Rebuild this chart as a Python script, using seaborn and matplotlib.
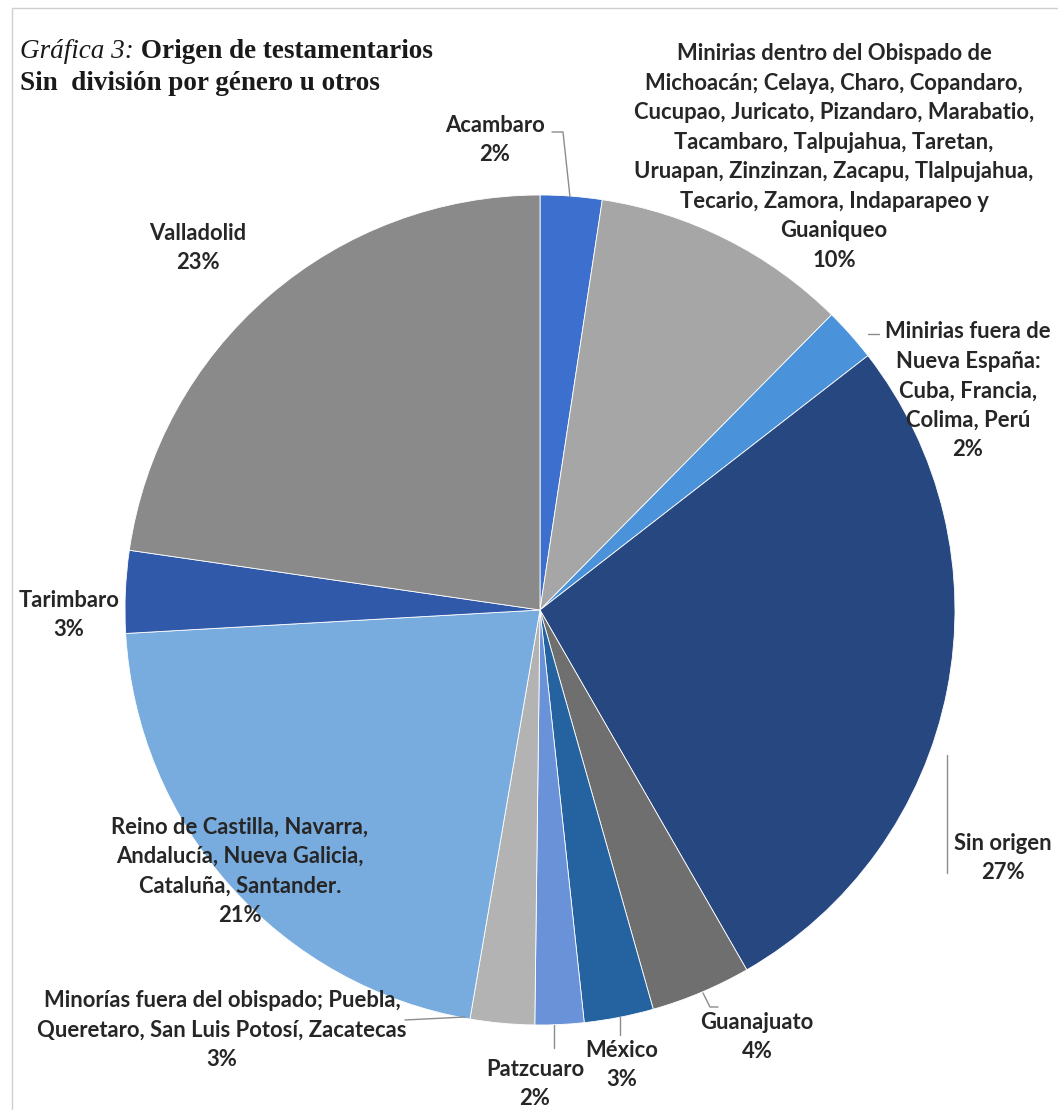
import matplotlib
matplotlib.use("Agg")
import matplotlib.pyplot as plt
import seaborn as sns
from matplotlib.patches import Rectangle

sns.set_style("white")
plt.rcParams['font.family'] = ['Lato', 'DejaVu Sans']

# ---- data (clockwise from 12 o'clock) ----
categories = [
    "Acambaro",
    "Minirias dentro del Obispado de\nMichoacán; Celaya, Charo, Copandaro,\nCucupao, Juricato, Pizandaro, Marabatio,\nTacambaro, Talpujahua, Taretan,\nUruapan, Zinzinzan, Zacapu, Tlalpujahua,\nTecario, Zamora, Indaparapeo y\nGuaniqueo",
    "Minirias fuera de\nNueva España:\nCuba, Francia,\nColima, Perú",
    "Sin origen",
    "Guanajuato",
    "México",
    "Patzcuaro",
    "Minorías fuera del obispado; Puebla,\nQueretaro, San Luis Potosí, Zacatecas",
    "Reino de Castilla, Navarra,\nAndalucía, Nueva Galicia,\nCataluña, Santander.",
    "Tarimbaro",
    "Valladolid",
]
values = [2.4, 10.0, 2.1, 27.2, 3.9, 2.7, 1.9, 2.5, 21.4, 3.2, 22.7]
pct_labels = ["2%", "10%", "2%", "27%", "4%", "3%", "2%", "3%", "21%", "3%", "23%"]
colors = ["#3d6fce", "#a6a6a6", "#4a92da", "#264780", "#6f6f6f", "#2462a0",
          "#6a92d8", "#b3b3b3", "#78acde", "#3159aa", "#8a8a8a"]

W, H = 1058, 1110
fig = plt.figure(figsize=(W / 100, H / 100), dpi=100)
ax = fig.add_axes([0, 0, 1, 1])

cx, cy, r = 540, H - 610, 415
ax.pie(values, colors=colors, startangle=90, counterclock=False,
       center=(cx, cy), radius=r, frame=True,
       wedgeprops=dict(edgecolor="white", linewidth=0.6))
ax.set_xlim(0, W)
ax.set_ylim(0, H)
ax.set_aspect('equal')
ax.axis('off')

# frame of the chart area
fig.patches.append(Rectangle((12 / W, -0.01), 1.1, (H - 8) / H + 0.01,
                             transform=fig.transFigure, fill=False,
                             edgecolor="#cfcfcf", linewidth=1.0))

# label positions (layout only)
label_pos = [(495, 140), (834, 157), (968, 391), (1003, 858), (757, 1037),
             (622, 1065), (535, 1084), (222, 1030), (240, 871), (69, 615),
             (198, 248)]
for name, pct, (x, y) in zip(categories, pct_labels, label_pos):
    ax.text(x, H - y, f"{name}\n{pct}", ha="center", va="center",
            multialignment="center", fontsize=15.8, fontweight="bold",
            color="#262626", linespacing=1.5)

# leader lines
leaders = [
    [(552, 132), (563, 132), (570, 197)],
    [(868, 334), (879, 334)],
    [(947, 755), (947, 873)],
    [(703, 993), (710, 1007), (718, 1007)],
    [(620, 1017), (620, 1035)],
    [(554, 1025), (554, 1048)],
    [(405, 1020), (465, 1017)],
]
for pts in leaders:
    xs = [p[0] for p in pts]
    ys = [H - p[1] for p in pts]
    ax.plot(xs, ys, color="#8c8c8c", linewidth=1.0)

# title
t1 = ax.text(20, H - 58, "Gráfica 3:", ha="left", va="baseline",
             fontsize=19.5, fontstyle="italic", family="Liberation Serif",
             color="#1a1a1a")
ax.annotate(" Origen de testamentarios", xy=(1, 0), xycoords=t1,
            xytext=(0, 0), textcoords="offset points", ha="left", va="bottom",
            fontsize=19.5, fontweight="bold", family="Liberation Serif",
            color="#1a1a1a")
ax.text(20, H - 90, "Sin  división por género u otros", ha="left",
        va="baseline", fontsize=19.5, fontweight="bold",
        family="Liberation Serif", color="#1a1a1a")

fig.savefig("out.png", dpi=100, facecolor="white")
